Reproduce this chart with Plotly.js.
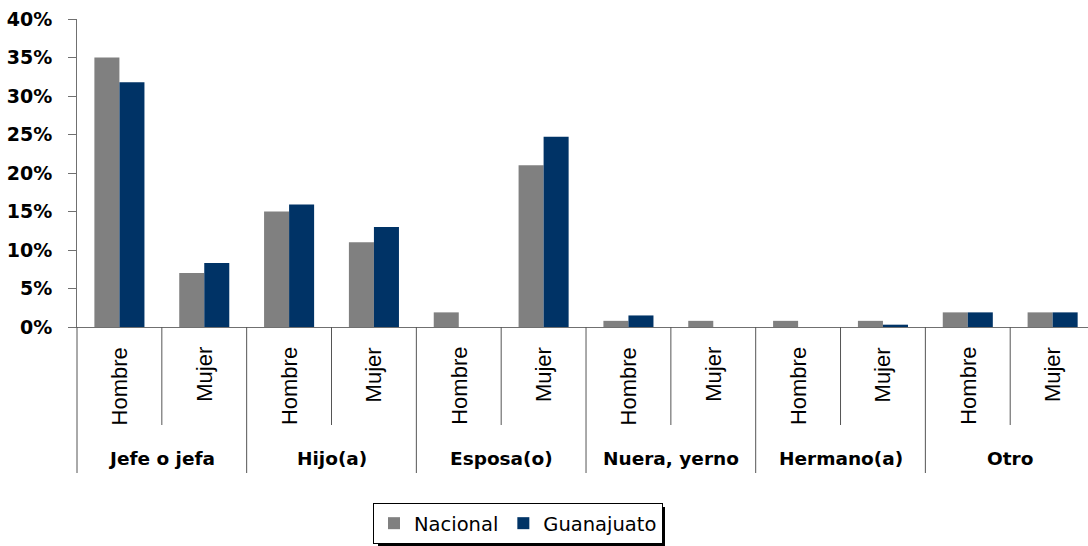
<!DOCTYPE html>
<html>
<head>
<meta charset="utf-8">
<script src="https://cdn.plot.ly/plotly-3.0.1.min.js"></script>
<style>html,body{margin:0;padding:0;background:#fff;}#chart{width:1088px;height:546px;}</style>
</head>
<body>
<div id="chart"></div>
<script>
// ---- data (percent) ----
const groups = ['Jefe o jefa', 'Hijo(a)', 'Esposa(o)', 'Nuera, yerno', 'Hermano(a)', 'Otro'];
const sexes = ['Hombre', 'Mujer'];
const nacional   = [35.0, 7.0, 15.0, 11.0, 1.9, 21.0, 0.8, 0.8, 0.8, 0.8, 1.9, 1.9];
const guanajuato = [31.8, 8.3, 15.9, 13.0, 0.0, 24.7, 1.5, 0.0, 0.0, 0.3, 1.9, 1.9];
const seriesNames = ['Nacional', 'Guanajuato'];
const yTicks = [0, 5, 10, 15, 20, 25, 30, 35, 40];

// ---- derived ----
const labels = [];
groups.forEach(g => sexes.forEach(s => labels.push(s)));
const xs = labels.map((_, i) => i);

const GRAY = '#808080', NAVY = '#003366', LINE = '#555555';

const traces = [
  {type: 'bar', name: seriesNames[0], x: xs, y: nacional, marker: {color: GRAY}, hoverinfo: 'y'},
  {type: 'bar', name: seriesNames[1], x: xs, y: guanajuato, marker: {color: NAVY}, hoverinfo: 'y'}
];

// plot area: left 77px, top 19px, height 308px, width 1011px
const PH = 308, PW = 1011;
const py = p => (327 - p) / PH;   // pixel row -> paper y
const px = p => (p - 77) / PW;    // pixel col -> paper x

const annotations = [];
labels.forEach((lab, i) => {
  annotations.push({
    x: i, xref: 'x', y: py(345), yref: 'paper', text: lab, showarrow: false,
    textangle: -90, xanchor: 'center', yanchor: 'top',
    font: {family: 'Liberation Sans, Arial, sans-serif', size: 22, color: '#000'}
  });
});
groups.forEach((g, gi) => {
  annotations.push({
    x: gi * 2 + 0.5, xref: 'x', y: py(458), yref: 'paper', text: g, showarrow: false,
    xanchor: 'center', yanchor: 'middle',
    font: {family: 'DejaVu Sans, sans-serif', size: 18.5, color: '#000', weight: 'bold'}
  });
});

const shapes = [];
// legend drop shadow
shapes.push({type: 'rect', xref: 'paper', yref: 'paper', x0: px(378), x1: px(665), y0: py(507), y1: py(549),
  fillcolor: '#000', line: {width: 0}, layer: 'above'});
// left boundary extension
shapes.push({type: 'line', xref: 'paper', yref: 'paper', x0: 0, x1: 0, y0: 0, y1: py(473),
  line: {color: LINE, width: 1}});
groups.forEach((g, gi) => {
  shapes.push({type: 'line', xref: 'x', yref: 'paper', x0: gi * 2 + 0.5, x1: gi * 2 + 0.5,
    y0: 0, y1: py(425), line: {color: LINE, width: 1}});
  if (gi > 0) {
    shapes.push({type: 'line', xref: 'x', yref: 'paper', x0: gi * 2 - 0.5, x1: gi * 2 - 0.5,
      y0: 0, y1: py(473), line: {color: LINE, width: 1}});
  }
});

const layout = {
  width: 1088, height: 546,
  margin: {l: 77, r: 0, t: 19, b: 219, pad: 0},
  paper_bgcolor: '#fff', plot_bgcolor: '#fff',
  barmode: 'group', bargap: 0.41, bargroupgap: 0,
  showlegend: true,
  legend: {
    orientation: 'h', x: px(518), xanchor: 'center', y: py(503), yanchor: 'top',
    bgcolor: '#fff', bordercolor: '#000', borderwidth: 1,
    font: {family: 'DejaVu Sans, sans-serif', size: 19.5, color: '#000'},
    itemwidth: 30, traceorder: 'normal'
  },
  xaxis: {
    range: [-0.5, 11.417], showticklabels: false, ticks: '', showgrid: false, zeroline: false,
    showline: true, linecolor: '#707070', linewidth: 1, fixedrange: true
  },
  yaxis: {
    range: [0, 40], tickvals: yTicks, ticktext: yTicks.map(v => v + '%'),
    showgrid: false, zeroline: false, showline: true, linecolor: '#707070', linewidth: 1,
    ticks: 'outside', ticklen: 8, tickcolor: '#707070', ticklabelstandoff: 12,
    tickfont: {family: 'DejaVu Sans, sans-serif', size: 19, color: '#000', weight: 'bold'},
    fixedrange: true
  },
  annotations: annotations,
  shapes: shapes
};

Plotly.newPlot('chart', traces, layout, {displayModeBar: false, staticPlot: true});
</script>
</body>
</html>
